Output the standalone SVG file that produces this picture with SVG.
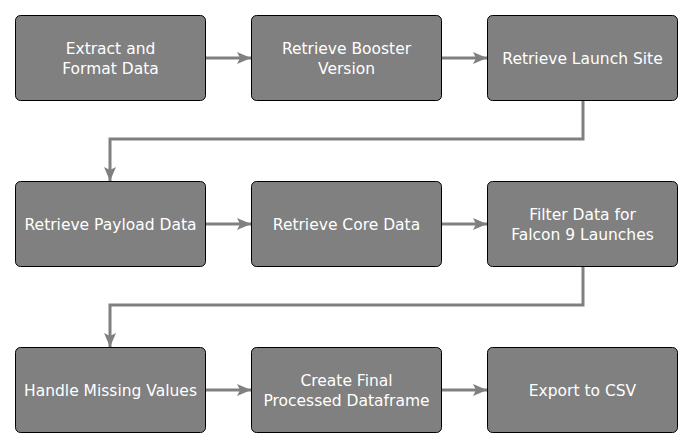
<svg xmlns="http://www.w3.org/2000/svg" width="692" height="448" viewBox="0 0 692 448">
<style>
.box{fill:#808080;stroke:#000;stroke-width:1}
.t{fill:#fff;font-family:"DejaVu Sans",sans-serif;font-size:15.5px;text-anchor:middle}
.c{fill:none;stroke:#808080;stroke-width:3}
</style>
<defs>
<marker id="ah" markerWidth="14" markerHeight="12" refX="14" refY="6" orient="auto" markerUnits="userSpaceOnUse" viewBox="0 0 14 12">
<path d="M0,0 L14,6 L0,12 L3,6 Z" fill="#808080"/>
</marker>
</defs>
<rect width="692" height="448" fill="#fff"/>
<g id="connectors">
<path class="c" d="M205.5,58 H251" marker-end="url(#ah)"/>
<path class="c" d="M441.5,58 H487" marker-end="url(#ah)"/>
<path class="c" d="M583,100.5 V139 H110 V181" marker-end="url(#ah)"/>
<path class="c" d="M205.5,224 H251" marker-end="url(#ah)"/>
<path class="c" d="M441.5,224 H487" marker-end="url(#ah)"/>
<path class="c" d="M583,266.5 V305 H110 V347" marker-end="url(#ah)"/>
<path class="c" d="M205.5,390 H251" marker-end="url(#ah)"/>
<path class="c" d="M441.5,390 H487" marker-end="url(#ah)"/>
</g>
<g id="n1"><rect class="box" x="15.5" y="15.5" width="190" height="85" rx="5"/><text class="t" x="110.5" y="53.5">Extract and</text><text class="t" x="110.5" y="73.5">Format Data</text></g>
<g id="n2"><rect class="box" x="251.5" y="15.5" width="190" height="85" rx="5"/><text class="t" x="346.5" y="53.5">Retrieve Booster</text><text class="t" x="346.5" y="73.5">Version</text></g>
<g id="n3"><rect class="box" x="487.5" y="15.5" width="190" height="85" rx="5"/><text class="t" x="582.5" y="63.5">Retrieve Launch Site</text></g>
<g id="n4"><rect class="box" x="15.5" y="181.5" width="190" height="85" rx="5"/><text class="t" x="110.5" y="229.5">Retrieve Payload Data</text></g>
<g id="n5"><rect class="box" x="251.5" y="181.5" width="190" height="85" rx="5"/><text class="t" x="346.5" y="229.5">Retrieve Core Data</text></g>
<g id="n6"><rect class="box" x="487.5" y="181.5" width="190" height="85" rx="5"/><text class="t" x="582.5" y="219.5">Filter Data for</text><text class="t" x="582.5" y="239.5">Falcon 9 Launches</text></g>
<g id="n7"><rect class="box" x="15.5" y="347.5" width="190" height="85" rx="5"/><text class="t" x="110.5" y="395.5">Handle Missing Values</text></g>
<g id="n8"><rect class="box" x="251.5" y="347.5" width="190" height="85" rx="5"/><text class="t" x="346.5" y="385.5">Create Final</text><text class="t" x="346.5" y="405.5">Processed Dataframe</text></g>
<g id="n9"><rect class="box" x="487.5" y="347.5" width="190" height="85" rx="5"/><text class="t" x="582.5" y="395.5">Export to CSV</text></g>
</svg>
